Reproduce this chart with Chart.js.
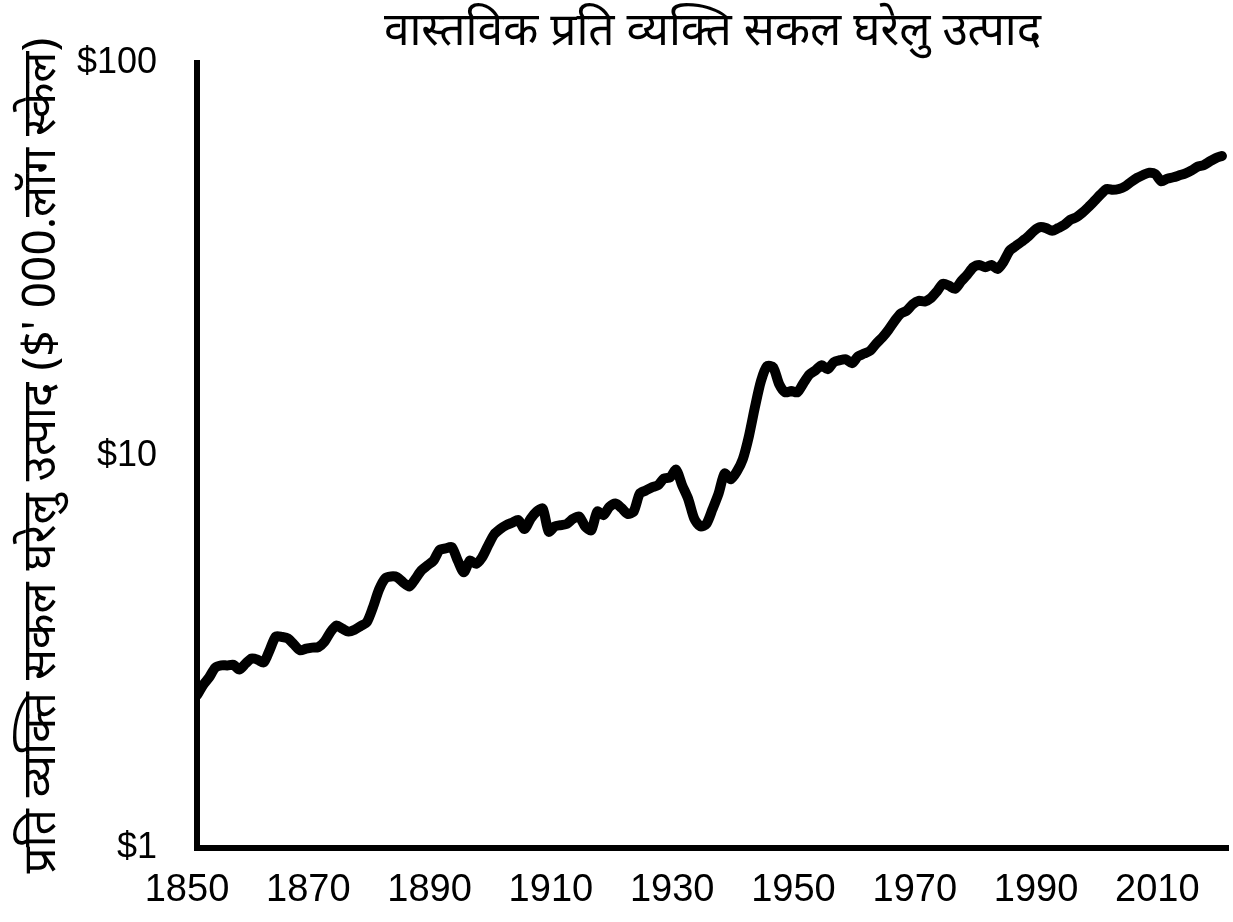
<!DOCTYPE html>
<html>
<head>
<meta charset="utf-8">
<script src="https://cdn.jsdelivr.net/npm/chart.js@4"></script>
<style>
  body { margin: 0; background: #fff; }
  #wrap { width: 1233px; height: 922px; }
</style>
</head>
<body>
<div id="wrap"><canvas id="gdpChart" width="1233" height="922"></canvas></div>
<script>
const chartTitle = "वास्तविक प्रति व्यक्ति सकल घरेलु उत्पाद";
const yAxisTitle = "प्रति व्यक्ति सकल घरेलु उत्पाद ($' 000.लॉग स्केल)";
const xTicks = [1850, 1870, 1890, 1910, 1930, 1950, 1970, 1990, 2010];
const yTicks = [1, 10, 100];

const years = [
  1850, 1851, 1852, 1853, 1854, 1855, 1856, 1857, 1858, 1859,
  1860, 1861, 1862, 1863, 1864, 1865, 1866, 1867, 1868, 1869,
  1870, 1871, 1872, 1873, 1874, 1875, 1876, 1877, 1878, 1879,
  1880, 1881, 1882, 1883, 1884, 1885, 1886, 1887, 1888, 1889,
  1890, 1891, 1892, 1893, 1894, 1895, 1896, 1897, 1898, 1899,
  1900, 1901, 1902, 1903, 1904, 1905, 1906, 1907, 1908, 1909,
  1910, 1911, 1912, 1913, 1914, 1915, 1916, 1917, 1918, 1919,
  1920, 1921, 1922, 1923, 1924, 1925, 1926, 1927, 1928, 1929,
  1930, 1931, 1932, 1933, 1934, 1935, 1936, 1937, 1938, 1939,
  1940, 1941, 1942, 1943, 1944, 1945, 1946, 1947, 1948, 1949,
  1950, 1951, 1952, 1953, 1954, 1955, 1956, 1957, 1958, 1959,
  1960, 1961, 1962, 1963, 1964, 1965, 1966, 1967, 1968, 1969,
  1970, 1971, 1972, 1973, 1974, 1975, 1976, 1977, 1978, 1979,
  1980, 1981, 1982, 1983, 1984, 1985, 1986, 1987, 1988, 1989,
  1990, 1991, 1992, 1993, 1994, 1995, 1996, 1997, 1998, 1999,
  2000, 2001, 2002, 2003, 2004, 2005, 2006, 2007, 2008, 2009,
  2010, 2011, 2012, 2013, 2014, 2015, 2016, 2017, 2018, 2019
];

// thousands of dollars
const gdpPerCapita = [
  2.45, 2.6, 2.72, 2.88, 2.92, 2.92, 2.93, 2.85, 2.95, 3.04,
  3.02, 2.97, 3.2, 3.46, 3.45, 3.42, 3.3, 3.19, 3.22, 3.24,
  3.25, 3.35, 3.55, 3.69, 3.62, 3.56, 3.6, 3.68, 3.76, 4.1,
  4.55, 4.86, 4.92, 4.9, 4.75, 4.64, 4.85, 5.1, 5.25, 5.4,
  5.75, 5.8, 5.85, 5.4, 5.04, 5.4, 5.3, 5.5, 5.9, 6.3,
  6.5, 6.65, 6.75, 6.85, 6.5, 6.9, 7.2, 7.33, 6.4, 6.6,
  6.65, 6.7, 6.9, 7.0, 6.6, 6.45, 7.2, 7.05, 7.4, 7.55,
  7.35, 7.1, 7.2, 8.0, 8.15, 8.3, 8.4, 8.75, 8.8, 9.2,
  8.4, 7.75, 6.9, 6.6, 6.7, 7.3, 8.0, 9.0, 8.7, 9.1,
  9.8, 11.2, 13.3, 15.5, 16.9, 16.8, 15.2, 14.5, 14.6, 14.5,
  15.3, 16.1, 16.5, 17.0, 16.6, 17.3, 17.5, 17.6, 17.2, 17.9,
  18.2, 18.5, 19.3, 20.0, 20.9, 22.0, 23.0, 23.4, 24.3, 24.8,
  24.7, 25.2, 26.2, 27.4, 27.1, 26.6, 27.8, 28.9, 30.2, 30.6,
  30.2, 30.6, 29.9, 31.2, 33.3, 34.2, 35.1, 36.1, 37.4, 38.2,
  38.0, 37.4, 38.0, 38.7, 39.9, 40.5, 41.6, 43.0, 44.6, 46.3,
  47.8, 47.6, 47.8, 48.5, 49.8, 51.0, 51.9, 52.6, 52.2, 50.0,
  50.8, 51.2, 51.8, 52.4, 53.3, 54.5, 55.0, 56.2, 57.3, 58.0
];

const tickFont = "'Liberation Sans', sans-serif";
const hindi = "'Noto Sans', sans-serif";

const ctx = document.getElementById("gdpChart").getContext("2d");

window.gdpChart = new Chart(ctx, {
  type: "line",
  data: {
    datasets: [
      {
        label: "GDP",
        data: years.map((yr, i) => ({ x: yr, y: gdpPerCapita[i] })),
        borderColor: "#000",
        borderWidth: 10,
        pointRadius: 0,
        tension: 0.25,
        borderCapStyle: "round",
        borderJoinStyle: "round",
      },
    ],
  },
  options: {
    responsive: false,
    animation: false,
    layout: { padding: { top: 0, right: 5, bottom: 13, left: 14 } },
    plugins: {
      legend: { display: false },
      tooltip: { enabled: false },
      title: {
        display: true,
        fullSize: false, // center over the plot, not the whole canvas
        text: chartTitle,
        color: "#000",
        font: { family: hindi, size: 46, weight: "normal" },
        padding: { top: 4, bottom: 4 },
      },
    },
    scales: {
      x: {
        type: "linear",
        min: 1850,
        max: 2020,
        afterBuildTicks: (axis) => {
          axis.ticks = xTicks.map((v) => ({ value: v }));
        },
        afterFit: (scale) => {
          scale.height = 61;
        },
        grid: { display: false },
        border: { display: true, color: "#000", width: 6 },
        ticks: {
          color: "#000",
          padding: 12,
          labelOffset: -10,
          maxRotation: 0,
          font: { family: tickFont, size: 38 },
          callback: (v) => String(v),
        },
      },
      y: {
        type: "logarithmic",
        min: 1,
        max: 100,
        afterBuildTicks: (axis) => {
          axis.ticks = yTicks.map((v) => ({ value: v }));
        },
        afterFit: (scale) => {
          scale.width = 183;
        },
        grid: { display: false },
        border: { display: true, color: "#000", width: 6 },
        ticks: {
          color: "#000",
          padding: 32,
          font: { family: tickFont, size: 36 },
          callback: (v) => "$" + v,
        },
        title: {
          display: true,
          text: yAxisTitle,
          color: "#000",
          font: { family: hindi, size: 46, weight: "normal" },
          padding: { top: 0, bottom: 8 },
        },
      },
    },
  },
});
</script>
</body>
</html>
